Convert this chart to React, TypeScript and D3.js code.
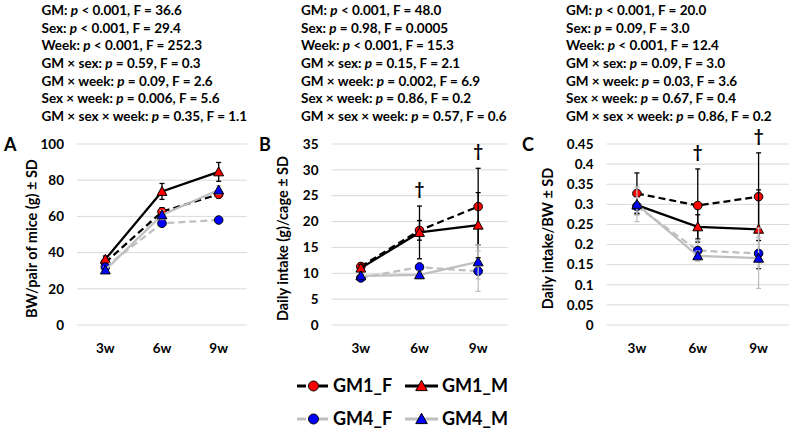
import React from "react";
import * as d3 from "d3";

const weeks = ["3w", "6w", "9w"];
const seriesNames = ["GM1_F", "GM1_M", "GM4_F", "GM4_M"];

// Panel A: BW/pair of mice (g)
const bwGM1F = [34.5, 62.6, 72.2];
const bwGM1M = [36.3, 73.8, 84.6];
const bwGM4F = [32.0, 56.2, 58.0];
const bwGM4M = [30.4, 60.8, 74.6];
const bwSdGM1F = [1.5, 2.2, 2.0];
const bwSdGM1M = [1.8, 4.4, 5.2];
const bwSdGM4F = [1.2, 1.5, 1.2];
const bwSdGM4M = [1.5, 2.5, 2.4];

// Panel B: Daily intake (g)/cage
const inGM1F = [11.3, 18.3, 22.9];
const inGM1M = [11.0, 17.9, 19.3];
const inGM4F = [9.1, 11.2, 10.4];
const inGM4M = [9.5, 9.7, 12.2];
const inSdGM1F = [0.7, 1.9, 7.4];
const inSdGM1M = [0.7, 5.1, 6.3];
const inSdGM4F = [0.4, 0.9, 3.9];
const inSdGM4M = [0.4, 0.7, 3.3];

// Panel C: Daily intake/BW
const rGM1F = [0.327, 0.297, 0.319];
const rGM1M = [0.298, 0.244, 0.238];
const rGM4F = [0.295, 0.185, 0.178];
const rGM4M = [0.3, 0.172, 0.166];
const rSdGM1F = [0.051, 0.091, 0.109];
const rSdGM1M = [0.02, 0.03, 0.098];
const rSdGM4F = [0.022, 0.026, 0.04];
const rSdGM4M = [0.043, 0.012, 0.075];

const statsA = [
  ["GM: ", "p", " < 0.001, F = 36.6"],
  ["Sex: ", "p", " < 0.001, F = 29.4"],
  ["Week: ", "p", " < 0.001, F = 252.3"],
  ["GM × sex: ", "p", " = 0.59, F = 0.3"],
  ["GM × week: ", "p", " = 0.09, F = 2.6"],
  ["Sex × week: ", "p", " = 0.006, F = 5.6"],
  ["GM × sex × week: ", "p", " = 0.35, F = 1.1"],
];
const statsB = [
  ["GM: ", "p", " < 0.001, F = 48.0"],
  ["Sex: ", "p", " = 0.98, F = 0.0005"],
  ["Week: ", "p", " < 0.001, F = 15.3"],
  ["GM × sex: ", "p", " = 0.15, F = 2.1"],
  ["GM × week: ", "p", " = 0.002, F = 6.9"],
  ["Sex × week: ", "p", " = 0.86, F = 0.2"],
  ["GM × sex × week: ", "p", " = 0.57, F = 0.6"],
];
const statsC = [
  ["GM: ", "p", " < 0.001, F = 20.0"],
  ["Sex: ", "p", " = 0.09, F = 3.0"],
  ["Week: ", "p", " < 0.001, F = 12.4"],
  ["GM × sex: ", "p", " = 0.09, F = 3.0"],
  ["GM × week: ", "p", " = 0.03, F = 3.6"],
  ["Sex × week: ", "p", " = 0.67, F = 0.4"],
  ["GM × sex × week: ", "p", " = 0.86, F = 0.2"],
];

const daggerB = ["6w", "9w"];
const daggerC = ["6w", "9w"];

const FONT = "Lato, 'Open Sans', sans-serif";
const GRAY = "#BFBFBF";
const styles = [
  { line: "#000", dash: "7,4", fill: "#FF0000", shape: "circle", err: "#000" },
  { line: "#000", dash: null, fill: "#FF0000", shape: "triangle", err: "#000" },
  { line: GRAY, dash: "7,4", fill: "#0000FF", shape: "circle", err: GRAY },
  { line: GRAY, dash: null, fill: "#0000FF", shape: "triangle", err: GRAY },
];

function Marker({ x, y, shape, fill, size }: any) {
  if (shape === "circle") {
    return <circle cx={x} cy={y} r={size} fill={fill} stroke="#000" strokeWidth={1} />;
  }
  const s = size * 1.15;
  const pts = `${x},${y - s} ${x + s},${y + s * 0.8} ${x - s},${y + s * 0.8}`;
  return <polygon points={pts} fill={fill} stroke="#000" strokeWidth={1} />;
}

function Panel({ letter, letterX, left, right, max, step, fmt, title, titleX, stats, statsX, values, sds, daggers }: any) {
  const top = 144, bottom = 325;
  const x = d3.scaleBand().domain(weeks).range([left, right]);
  const y = d3.scaleLinear().domain([0, max]).range([bottom, top]);
  const ticks = d3.range(0, max + step / 2, step);
  const cx = (w: string) => (x(w) as number) + x.bandwidth() / 2;
  const lineGen = d3.line<number>().x((_, i) => cx(weeks[i])).y((v) => y(v));
  return (
    <g>
      {stats.map((s: string[], i: number) => (
        <text key={i} x={statsX} y={15 + i * 17.67} fontFamily={FONT} fontWeight="bold" fontSize={13.5} fill="#000">
          {s[0]}<tspan fontStyle="italic">{s[1]}</tspan>{s[2]}
        </text>
      ))}
      <text x={letterX} y={151} fontFamily={FONT} fontWeight="bold" fontSize={18}>{letter}</text>
      {ticks.map((t: number) => (
        <g key={t}>
          <line x1={left} x2={right} y1={y(t)} y2={y(t)} stroke="#D9D9D9" strokeWidth={1} />
          <text x={left - 13} y={y(t)} dy="0.35em" textAnchor="end" fontFamily={FONT} fontWeight="bold" fontSize={13.5}>{fmt(t)}</text>
        </g>
      ))}
      {weeks.map((w) => (
        <text key={w} x={cx(w)} y={353} textAnchor="middle" fontFamily={FONT} fontWeight="bold" fontSize={13.5}>{w}</text>
      ))}
      <text transform={`translate(${titleX},${(top + bottom) / 2 + 4}) rotate(-90)`} textAnchor="middle" dy="0.35em" fontFamily={FONT} fontWeight="bold" fontSize={14.5}>{title}</text>
      {values.map((vals: number[], si: number) => {
        const st = styles[si];
        return (
          <g key={si}>
            <path d={lineGen(vals) as string} fill="none" stroke={st.line} strokeWidth={2.25} strokeDasharray={st.dash || undefined} />
            {vals.map((v, i) => {
              const sd = sds[si][i];
              const xx = cx(weeks[i]);
              return (
                <g key={i} stroke={st.err} strokeWidth={1.3}>
                  <line x1={xx} x2={xx} y1={y(v - sd)} y2={y(v + sd)} />
                  <line x1={xx - 2.5} x2={xx + 2.5} y1={y(v + sd)} y2={y(v + sd)} />
                  <line x1={xx - 2.5} x2={xx + 2.5} y1={y(v - sd)} y2={y(v - sd)} />
                </g>
              );
            })}
            {vals.map((v, i) => (
              <Marker key={"m" + i} x={cx(weeks[i])} y={y(v)} shape={st.shape} fill={st.fill} size={4.3} />
            ))}
          </g>
        );
      })}
      {daggers.map((w: string) => {
        const i = weeks.indexOf(w);
        const topVal = d3.max(values.map((vals: number[], si: number) => vals[i] + sds[si][i])) as number;
        return (
          <text key={w} x={cx(w)} y={y(topVal) - 17} dy="0.35em" textAnchor="middle" fontFamily={FONT} fontWeight="bold" fontSize={17}>†</text>
        );
      })}
    </g>
  );
}

function Legend() {
  const items = [
    { x0: 297, x1: 328, mx: 313.5, tx: 333, y: 386 },
    { x0: 405, x1: 438, mx: 421.5, tx: 442, y: 386 },
    { x0: 297, x1: 328, mx: 313.5, tx: 333, y: 419 },
    { x0: 405, x1: 438, mx: 421.5, tx: 442, y: 419 },
  ];
  return (
    <g>
      {seriesNames.map((n, i) => {
        const it = items[i];
        const st = styles[i];
        return (
          <g key={n}>
            {st.dash ? (
              <>
                <line x1={it.x0} x2={it.x0 + 9} y1={it.y} y2={it.y} stroke={st.line} strokeWidth={3} />
                <line x1={it.x1 - 9} x2={it.x1} y1={it.y} y2={it.y} stroke={st.line} strokeWidth={3} />
              </>
            ) : (
              <line x1={it.x0} x2={it.x1} y1={it.y} y2={it.y} stroke={st.line} strokeWidth={3} />
            )}
            <Marker x={it.mx} y={it.y} shape={st.shape} fill={st.fill} size={5} />
            <text x={it.tx} y={it.y + 6} fontFamily={FONT} fontWeight="bold" fontSize={18}>{n}</text>
          </g>
        );
      })}
    </g>
  );
}

export default function App() {
  return (
    <svg width={794} height={433} style={{ display: "block", position: "absolute", left: 0, top: 0, background: "#fff" }}>
      <Panel letter="A" letterX={4} left={77} right={247} max={100} step={20} fmt={(t: number) => d3.format("d")(t)}
        title="BW/pair of mice (g) ± SD" titleX={32} stats={statsA} statsX={41.5}
        values={[bwGM1F, bwGM1M, bwGM4F, bwGM4M]} sds={[bwSdGM1F, bwSdGM1M, bwSdGM4F, bwSdGM4M]} daggers={[]} />
      <Panel letter="B" letterX={259} left={331.5} right={507.5} max={35} step={5} fmt={(t: number) => d3.format("d")(t)}
        title="Daily intake (g)/cage ± SD" titleX={283} stats={statsB} statsX={301}
        values={[inGM1F, inGM1M, inGM4F, inGM4M]} sds={[inSdGM1F, inSdGM1M, inSdGM4F, inSdGM4M]} daggers={daggerB} />
      <Panel letter="C" letterX={522} left={606.5} right={789} max={0.45} step={0.05} fmt={(t: number) => (Math.abs(t) < 1e-9 ? "0" : String(+t.toFixed(2)))}
        title="Daily intake/BW ± SD" titleX={548} stats={statsC} statsX={566}
        values={[rGM1F, rGM1M, rGM4F, rGM4M]} sds={[rSdGM1F, rSdGM1M, rSdGM4F, rSdGM4M]} daggers={daggerC} />
      <Legend />
    </svg>
  );
}
